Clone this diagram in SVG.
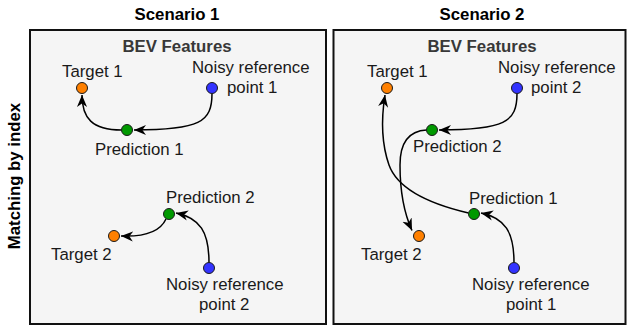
<svg xmlns="http://www.w3.org/2000/svg" width="628" height="326" viewBox="0 0 628 326">
  <style>
    text { font-family: "Liberation Sans", Arial, sans-serif; font-size: 16.8px; fill: #1a1a1a; }
    .title { font-weight: bold; fill: #000; }
    .bev { font-weight: bold; fill: #383838; }
    .panel { fill: #f5f5f5; stroke: #111; stroke-width: 2; }
    .pt { stroke: #1a1a1a; stroke-width: 1; }
    .target { fill: #ff8000; }
    .ref { fill: #3333ff; }
    .pred { fill: #009900; }
    .edge { fill: none; stroke: #000; stroke-width: 1.5; marker-end: url(#arrow); }
  </style>
  <defs>
    <marker id="arrow" markerUnits="userSpaceOnUse" markerWidth="12" markerHeight="12" viewBox="0 0 10 10" refX="10" refY="5" orient="auto">
      <path d="M0,0.8 L10,5 L0,9.2 L3,5 Z" fill="#000"/>
    </marker>
  </defs>

  <!-- headings -->
  <text class="title" x="177" y="20" text-anchor="middle">Scenario 1</text>
  <text class="title" x="482" y="20" text-anchor="middle">Scenario 2</text>
  <text class="title" transform="translate(20,176) rotate(-90)" text-anchor="middle">Matching by index</text>

  <!-- panels -->
  <g id="panel-1">
    <rect class="panel" x="30" y="30" width="296" height="294"/>
    <text class="bev" x="177" y="52" text-anchor="middle">BEV Features</text>
  </g>
  <g id="panel-2">
    <rect class="panel" x="333.5" y="30" width="292" height="294"/>
    <text class="bev" x="482" y="52" text-anchor="middle">BEV Features</text>
  </g>

  <!-- connectors -->
  <g id="connectors">
    <!-- scenario 1 -->
    <path class="edge" d="M212,93.5 C212,122 200,130 134,130"/>
    <path class="edge" d="M121.5,130 C92,130 82,118 82,95"/>
    <path class="edge" d="M209,262.5 C209,232 200,218 176,213"/>
    <path class="edge" d="M166,219 C160,232 145,237 121,236"/>
    <!-- scenario 2 -->
    <path class="edge" d="M517,93.5 C517,122 505,130 439,130"/>
    <path class="edge" d="M426.5,130 C407,131 400,145 400,165 C400,190 404,213 412,230.5"/>
    <path class="edge" d="M514,262.5 C514,232 505,218 481,213"/>
    <path class="edge" d="M468.5,213 C430,204 398,190 389,165 C382,145 381,120 385,95"/>
  </g>

  <!-- scenario 1 points -->
  <g id="s1-target-1">
    <circle class="pt target" cx="82" cy="88" r="5.5"/>
    <text x="62" y="77">Target 1</text>
  </g>
  <g id="s1-ref-1">
    <circle class="pt ref" cx="212" cy="88" r="5.5"/>
    <text x="192" y="73">Noisy reference</text>
    <text x="227" y="93">point 1</text>
  </g>
  <g id="s1-pred-1">
    <circle class="pt pred" cx="127" cy="130" r="5.5"/>
    <text x="95" y="155">Prediction 1</text>
  </g>
  <g id="s1-pred-2">
    <circle class="pt pred" cx="169" cy="214" r="5.5"/>
    <text x="166" y="203">Prediction 2</text>
  </g>
  <g id="s1-target-2">
    <circle class="pt target" cx="114" cy="236" r="5.5"/>
    <text x="51" y="260">Target 2</text>
  </g>
  <g id="s1-ref-2">
    <circle class="pt ref" cx="209" cy="268" r="5.5"/>
    <text x="166" y="290">Noisy reference</text>
    <text x="199" y="310">point 2</text>
  </g>

  <!-- scenario 2 points -->
  <g id="s2-target-1">
    <circle class="pt target" cx="387" cy="88" r="5.5"/>
    <text x="367" y="77">Target 1</text>
  </g>
  <g id="s2-ref-2">
    <circle class="pt ref" cx="517" cy="88" r="5.5"/>
    <text x="498" y="73">Noisy reference</text>
    <text x="531" y="93">point 2</text>
  </g>
  <g id="s2-pred-2">
    <circle class="pt pred" cx="432" cy="130" r="5.5"/>
    <text x="413" y="152">Prediction 2</text>
  </g>
  <g id="s2-pred-1">
    <circle class="pt pred" cx="474" cy="214" r="5.5"/>
    <text x="469" y="204">Prediction 1</text>
  </g>
  <g id="s2-target-2">
    <circle class="pt target" cx="419" cy="236" r="5.5"/>
    <text x="361" y="260">Target 2</text>
  </g>
  <g id="s2-ref-1">
    <circle class="pt ref" cx="514" cy="268" r="5.5"/>
    <text x="472" y="290">Noisy reference</text>
    <text x="506" y="310">point 1</text>
  </g>
</svg>
